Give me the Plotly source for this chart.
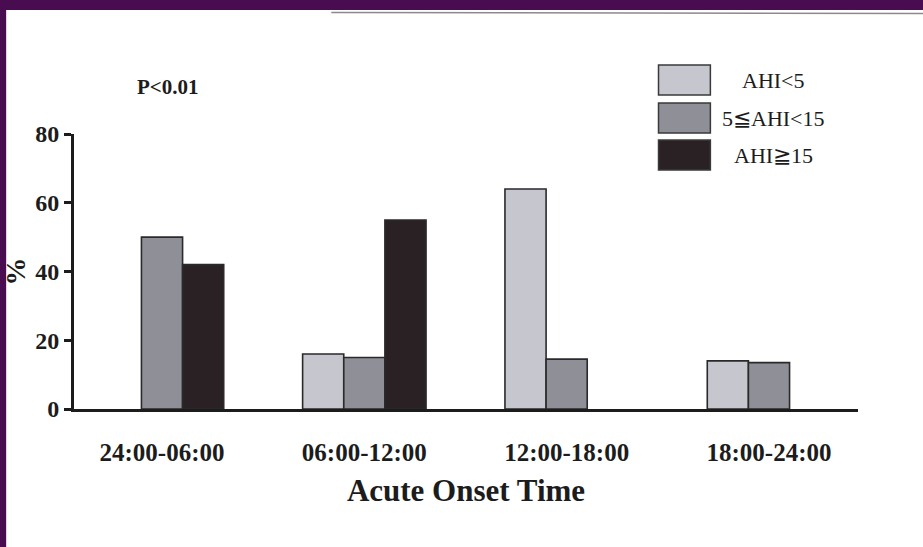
import plotly.graph_objects as go

categories = ["24:00-06:00", "06:00-12:00", "12:00-18:00", "18:00-24:00"]
series_names = ["AHI&lt;5", "5≦AHI&lt;15", "AHI≧15"]
ahi_lt5 = [None, 16, 64, 14]
ahi_5_15 = [50, 15, 14.5, 13.5]
ahi_ge15 = [42, 55, None, None]
series_values = [ahi_lt5, ahi_5_15, ahi_ge15]
colors = ["#c6c7ce", "#8f8f97", "#2a2125"]
y_ticks = [0, 20, 40, 60, 80]

FONT = "Liberation Serif"
INK = "#1c1c1c"

fig = go.Figure()
for name, vals, col in zip(series_names, series_values, colors):
    fig.add_trace(go.Bar(
        x=categories, y=vals, name=name,
        marker=dict(color=col, line=dict(color="#2a2a2a", width=1.6)),
        showlegend=False,
    ))

# plot area pixel geometry
L, R, T, B = 72, 65, 134, 138
W, H = 923, 547
pw, ph = W - L - R, H - T - B

def px(x):
    return (x - L) / pw

def py(y):
    return (H - B - y) / ph

shapes = [
    # white scanned page on purple frame
    dict(type="rect", xref="paper", yref="paper", layer="below",
         x0=px(4), x1=px(W + 5), y0=py(H + 5), y1=py(10),
         fillcolor="white", line=dict(width=0)),
    # faint scan edge line near the top
    dict(type="line", xref="paper", yref="paper", layer="below",
         x0=px(330), x1=px(W + 5), y0=py(12.5), y1=py(13.5),
         line=dict(color="#8a8a8a", width=1.5)),
]
annotations = []
# manual legend (large swatches like the original)
legend_rows = [(65, 95), (103, 133), (140, 170)]
for (top, bot), name, col in zip(legend_rows, series_names, colors):
    shapes.append(dict(type="rect", xref="paper", yref="paper",
                       x0=px(658), x1=px(710), y0=py(bot), y1=py(top),
                       fillcolor=col, line=dict(color="#3a3a3a", width=1.5)))
    annotations.append(dict(xref="paper", yref="paper", x=px(773), y=py((top + bot) / 2),
                            text=name, showarrow=False, xanchor="center", yanchor="middle",
                            font=dict(family=FONT, size=22, color=INK)))

annotations.append(dict(xref="paper", yref="paper", x=px(133), y=py(87),
                        text="<b>P&lt;0.01</b>", showarrow=False, xanchor="left", yanchor="middle",
                        font=dict(family=FONT, size=21, color=INK)))

fig.update_layout(
    width=W, height=H,
    margin=dict(l=L, r=R, t=T, b=B),
    paper_bgcolor="#4a0c50",
    plot_bgcolor="rgba(0,0,0,0)",
    barmode="group",
    bargap=0.39, bargroupgap=0,
    shapes=shapes,
    annotations=annotations,
    xaxis=dict(
        range=[-0.435, 3.44],
        showline=True, linecolor=INK, linewidth=3,
        ticks="", showgrid=False, zeroline=False,
        ticklabelstandoff=19,
        tickfont=dict(family=FONT, size=25, color=INK, weight="bold"),
        title=dict(text="<b>Acute Onset Time</b>", standoff=15,
                   font=dict(family=FONT, size=31, color=INK)),
    ),
    yaxis=dict(
        range=[0, 80], tickvals=y_ticks,
        showline=True, linecolor=INK, linewidth=3,
        ticks="outside", ticklen=7, tickwidth=3, tickcolor=INK,
        showgrid=False, zeroline=False,
        tickfont=dict(family=FONT, size=24, color=INK, weight="bold"),
        title=dict(text="<b>%</b>", standoff=4,
                   font=dict(family=FONT, size=28, color=INK)),
    ),
)

fig.write_html(
    "out.html",
    config={"displayModeBar": False},
    post_script="document.body.style.margin='0';document.body.style.background='#4a0c50';",
)
